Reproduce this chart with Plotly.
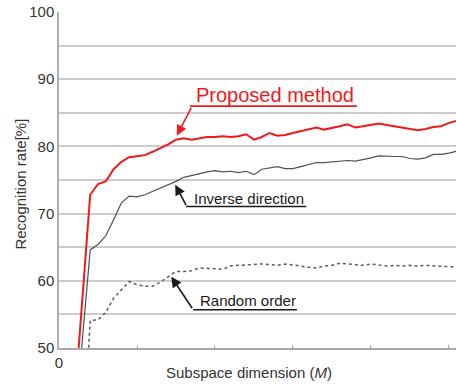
import plotly.graph_objects as go

# Subspace dimension M
dims = list(range(2, 52))

proposed = [42.0, 57.5, 72.8, 74.4, 74.8, 76.6, 77.7, 78.4, 78.5, 78.7,
            79.2, 79.7, 80.3, 81.0, 81.2, 81.0, 81.2, 81.4, 81.4, 81.5,
            81.4, 81.5, 81.8, 81.0, 81.4, 82.0, 81.6, 81.7, 82.0, 82.3,
            82.5, 82.8, 82.5, 82.7, 83.0, 83.3, 82.8, 83.0, 83.2, 83.4,
            83.2, 83.0, 82.9, 82.7, 82.4, 82.6, 82.9, 83.0, 83.5, 83.8]

inverse = [38.0, 51.3, 64.6, 65.4, 66.7, 69.1, 71.6, 72.6, 72.5, 72.8,
           73.3, 73.8, 74.2, 74.8, 75.4, 75.7, 76.0, 76.2, 76.4, 76.2,
           76.3, 76.1, 76.3, 75.8, 76.6, 76.8, 77.0, 76.7, 76.7, 77.0,
           77.3, 77.6, 77.6, 77.7, 77.8, 77.9, 77.8, 78.0, 78.3, 78.6,
           78.5, 78.5, 78.5, 78.2, 78.1, 78.3, 78.8, 78.8, 79.0, 79.3]

random_order = [None, 34.0, 54.1, 54.2, 55.3, 57.4, 58.7, 59.9, 59.4, 59.2,
                59.2, 59.8, 60.6, 61.4, 61.4, 61.5, 61.9, 61.9, 61.8, 61.7,
                62.2, 62.3, 62.4, 62.5, 62.5, 62.4, 62.3, 62.5, 62.4, 62.2,
                62.0, 61.9, 62.2, 62.3, 62.6, 62.5, 62.3, 62.3, 62.5, 62.4,
                62.2, 62.3, 62.2, 62.3, 62.2, 62.3, 62.2, 62.2, 62.1, 62.1]

y_ticks = [50, 55, 60, 65, 70, 75, 80, 85, 90, 95, 100]
y_ticktext = ["50", "", "60", "", "70", "", "80", "", "90", "", "100"]
x_ticks = [0, 10, 20, 30, 40, 50]
x_ticktext = ["0", "", "", "", "", "50"]

FONT = "Liberation Sans, Arial, sans-serif"
RED = "#f01a1a"

fig = go.Figure()
fig.add_trace(go.Scatter(x=dims, y=random_order, mode="lines",
                         line=dict(color="#5a5a5a", width=1.5, dash="dot"),
                         connectgaps=False, showlegend=False))
fig.add_trace(go.Scatter(x=dims, y=inverse, mode="lines",
                         line=dict(color="#505050", width=1.2),
                         showlegend=False))
fig.add_trace(go.Scatter(x=dims, y=proposed, mode="lines",
                         line=dict(color=RED, width=2.0),
                         showlegend=False))

labels = [
    # text, center x, center y, font size, colour, underline x0, x1, y, arrow tail, arrow tip
    ("Proposed method", 27.7, 87.7, 20, RED, 16.8, 38.2, 86.0, (17.05, 85.95), (15.1, 81.6)),
    ("Inverse direction", 24.4, 72.25, 15, "#1a1a1a", 16.3, 31.7, 71.05, (16.4, 71.05), (14.9, 74.3)),
    ("Random order", 24.2, 57.07, 15, "#1a1a1a", 17.2, 30.5, 55.7, (17.2, 55.7), (14.4, 60.6)),
]

annotations = []
shapes = []
for text, tx, ty, fs, col, ux0, ux1, uy, tail, tip in labels:
    annotations.append(dict(x=tx, y=ty, xref="x", yref="y", text=text,
                            showarrow=False, font=dict(family=FONT, size=fs, color=col),
                            xanchor="center", yanchor="middle"))
    shapes.append(dict(type="line", xref="x", yref="y", x0=ux0, x1=ux1, y0=uy, y1=uy,
                       line=dict(color=col, width=1.6)))
    annotations.append(dict(x=tip[0], y=tip[1], xref="x", yref="y",
                            ax=tail[0], ay=tail[1], axref="x", ayref="y",
                            text="", showarrow=True, arrowhead=2, arrowsize=1.3,
                            arrowwidth=1.6, arrowcolor=col, standoff=0, startstandoff=0))

annotations.append(dict(x=0.4786, y=-0.073, xref="paper", yref="paper",
                        text="Subspace dimension (<i>M</i>)", showarrow=False,
                        font=dict(family=FONT, size=15, color="#333333"),
                        xanchor="center", yanchor="middle"))
annotations.append(dict(x=-0.098, y=0.4866, xref="paper", yref="paper",
                        text="Recognition rate[%]", showarrow=False, textangle=-90,
                        font=dict(family=FONT, size=15, color="#333333"),
                        xanchor="center", yanchor="middle"))

fig.update_layout(
    width=456, height=385,
    margin=dict(l=59, r=0, t=12, b=37),
    paper_bgcolor="white", plot_bgcolor="white",
    font=dict(family=FONT, size=15, color="#333333"),
    annotations=annotations, shapes=shapes,
    xaxis=dict(range=[0, 50.9], tickvals=x_ticks, ticktext=x_ticktext,
               showgrid=False, zeroline=False, showline=True,
               linecolor="#a8a8a8", linewidth=1.5,
               ticks="inside", ticklen=3, tickcolor="#a8a8a8", tickwidth=1,
               tickfont=dict(size=15, color="#333333")),
    yaxis=dict(range=[50, 100], tickvals=y_ticks, ticktext=y_ticktext,
               showgrid=True, gridcolor="#cccccc", gridwidth=1.5,
               zeroline=False, showline=True, linecolor="#b0b0b0", linewidth=1.5,
               ticks="", tickfont=dict(size=15, color="#333333")),
)

fig.write_html("out.html")
